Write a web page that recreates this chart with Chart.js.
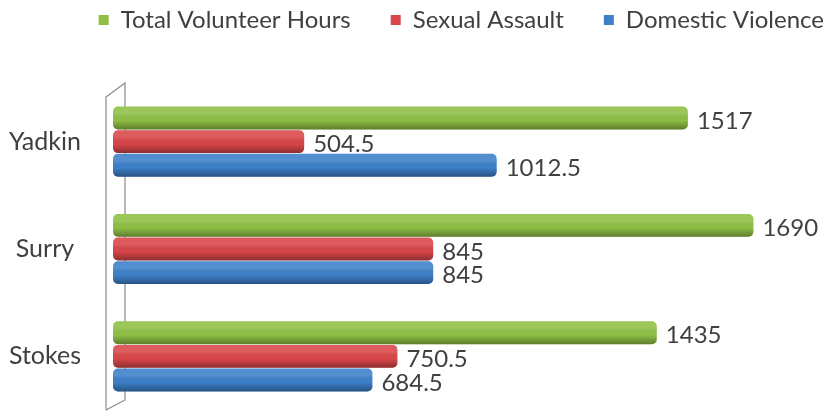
<!DOCTYPE html>
<html>
<head>
<meta charset="utf-8">
<script src="https://cdn.jsdelivr.net/npm/chart.js@4"></script>
<style>
  html, body { margin: 0; padding: 0; background: #fff; }
  #wrap { width: 830px; height: 414px; }
</style>
</head>
<body>
<div id="wrap"><canvas id="chart" width="830" height="414"></canvas></div>
<script>
// datos del gráfico
const counties = ['Yadkin', 'Surry', 'Stokes'];
const volunteerHours = [1517, 1690, 1435];
const sexualAssault = [504.5, 845, 750.5];
const domesticViolence = [1012.5, 845, 684.5];
const seriesNames = ['Total Volunteer Hours', 'Sexual Assault', 'Domestic Violence'];

const FONT = 'Lato, "Open Sans", sans-serif';
const TEXT = '#404040';

// pared lateral gris (efecto 3D)
const wallPlugin = {
    id: 'wall',
    beforeDatasetsDraw(chart) {
        const { ctx, chartArea } = chart;
        const l = chartArea.left - 7, r = chartArea.left + 12;
        const top = chartArea.top, bot = chartArea.bottom;
        ctx.save();
        ctx.strokeStyle = '#8a8a8a';
        ctx.lineWidth = 1.2;
        ctx.beginPath();
        ctx.moveTo(l, bot);
        ctx.lineTo(l, top + 9);
        ctx.lineTo(r, top - 5);
        ctx.lineTo(r, bot - 10);
        ctx.lineTo(l, bot);
        ctx.stroke();
        ctx.restore();
    }
};

// sombreado tipo cilindro + etiquetas de valor
const barDecor = {
    id: 'barDecor',
    afterDatasetsDraw(chart) {
        const { ctx } = chart;
        ctx.save();
        chart.data.datasets.forEach((ds, di) => {
            const meta = chart.getDatasetMeta(di);
            meta.data.forEach((el, i) => {
                const { x, y, base, height } = el.getProps(['x', 'y', 'base', 'height'], true);
                const t = y - height / 2;
                const g = ctx.createLinearGradient(0, t, 0, t + height);
                g.addColorStop(0, 'rgba(255,255,255,0.10)');
                g.addColorStop(0.3, 'rgba(255,255,255,0.12)');
                g.addColorStop(0.6, 'rgba(0,0,0,0)');
                g.addColorStop(1, 'rgba(0,0,0,0.35)');
                ctx.fillStyle = g;
                ctx.beginPath();
                ctx.roundRect(base, t, x - base, height, 5);
                ctx.fill();

                ctx.fillStyle = TEXT;
                ctx.font = '24px ' + FONT;
                ctx.textBaseline = 'middle';
                ctx.textAlign = 'left';
                ctx.fillText(String(ds.data[i]), x + 9, y + 3);
            });
        });
        ctx.restore();
    }
};

// espacio bajo la leyenda y leyenda corrida
const legendSpace = {
    id: 'legendSpace',
    beforeInit(chart) {
        const fit = chart.legend.fit;
        chart.legend.fit = function () {
            fit.bind(chart.legend)();
            this.height = 88;
        };
    },
    afterLayout(chart) {
        chart.legend.left += 34;
        chart.legend.right += 34;
        chart.legend.top -= 32;
        chart.legend.bottom -= 32;
    }
};

const ctx = document.getElementById('chart').getContext('2d');
new Chart(ctx, {
    type: 'bar',
    data: {
        labels: counties,
        datasets: [
            { label: seriesNames[0], data: volunteerHours, backgroundColor: '#8fbf45' },
            { label: seriesNames[1], data: sexualAssault, backgroundColor: '#d9464a' },
            { label: seriesNames[2], data: domesticViolence, backgroundColor: '#3d80c9' }
        ]
    },
    options: {
        indexAxis: 'y',
        responsive: false,
        animation: false,
        layout: { padding: { top: 0, right: 0, bottom: 4, left: 0 } },
        datasets: {
            bar: {
                categoryPercentage: 0.66,
                barPercentage: 0.97,
                borderRadius: 5,
                borderSkipped: false
            }
        },
        scales: {
            x: {
                display: false,
                min: 0,
                max: 1892
            },
            y: {
                grid: { display: false },
                border: { display: false },
                ticks: {
                    color: TEXT,
                    font: { family: FONT, size: 25 },
                    crossAlign: 'center',
                    padding: 24
                },
                afterFit(scale) {
                    scale.width = 113;
                    scale.paddingTop = 0;
                    scale.paddingBottom = 0;
                }
            }
        },
        plugins: {
            legend: {
                position: 'top',
                align: 'end',
                labels: {
                    color: TEXT,
                    font: { family: FONT, size: 24 },
                    boxWidth: 10,
                    boxHeight: 10,
                    padding: 40
                }
            },
            tooltip: { enabled: false }
        }
    },
    plugins: [wallPlugin, barDecor, legendSpace]
});
</script>
</body>
</html>
